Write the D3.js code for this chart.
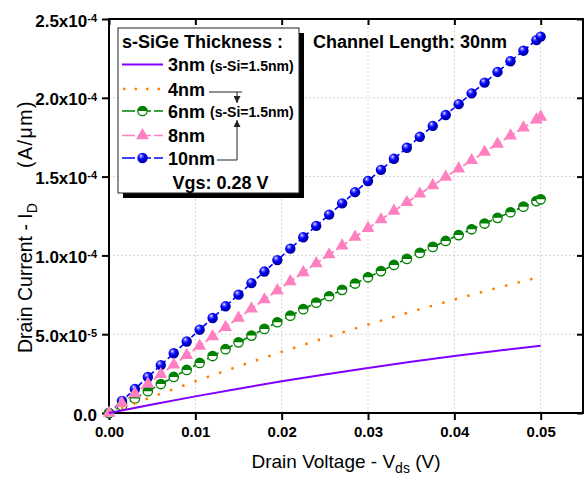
<!DOCTYPE html>
<html lang="en">
<head>
<meta charset="UTF-8">
<title>Drain Current vs Drain Voltage</title>
<script src="https://cdn.jsdelivr.net/npm/d3@7/dist/d3.min.js"></script>
<style>
    body { margin: 0; background: #fff; }
    svg { display: block; font-family: "Liberation Sans", Arial, sans-serif; }
    .grid line { stroke: #c8c8c8; stroke-width: 1; stroke-dasharray: 1.5, 2.5; }
    .axis path { display: none; }
    .axis line { stroke: #000; stroke-width: 2; }
    .axis text { font-size: 15px; font-weight: 700; fill: #000; }
    .leg { font-weight: 700; fill: #000; }
</style>
</head>
<body>
<svg width="584" height="480"></svg>
<script>
// V_ds (V) where the marker curves were sampled
var vdsPts = [0, 0.0015, 0.003, 0.0045, 0.006, 0.0075, 0.009, 0.0105, 0.012, 0.0135,
    0.015, 0.0165, 0.018, 0.0195, 0.021, 0.0225, 0.024, 0.0255, 0.027, 0.0285,
    0.03, 0.0315, 0.033, 0.0345, 0.036, 0.0375, 0.039, 0.0405, 0.042, 0.0435,
    0.045, 0.0465, 0.048, 0.0495, 0.05];
// I_D in units of 1e-5 A/um
var id10nm = [0, 0.764, 1.525, 2.283, 3.038, 3.791, 4.540, 5.286, 6.030, 6.770,
    7.508, 8.242, 8.974, 9.703, 10.428, 11.151, 11.871, 12.588, 13.302, 14.013,
    14.721, 15.427, 16.129, 16.828, 17.525, 18.218, 18.908, 19.596, 20.281, 20.962,
    21.641, 22.317, 22.990, 23.660, 23.883];
var id8nm = [0, 0.618, 1.233, 1.845, 2.453, 3.057, 3.659, 4.257, 4.851, 5.442,
    6.030, 6.614, 7.195, 7.773, 8.347, 8.918, 9.485, 10.050, 10.610, 11.167,
    11.721, 12.272, 12.819, 13.363, 13.903, 14.440, 14.973, 15.504, 16.030, 16.554,
    17.074, 17.590, 18.103, 18.613, 18.783];
var id6nm = [0, 0.464, 0.925, 1.382, 1.836, 2.286, 2.732, 3.175, 3.615, 4.050,
    4.483, 4.911, 5.337, 5.758, 6.176, 6.591, 7.002, 7.409, 7.813, 8.213,
    8.610, 9.003, 9.393, 9.779, 10.161, 10.540, 10.916, 11.288, 11.656, 12.021,
    12.382, 12.739, 13.093, 13.444, 13.560];
// line-only curves, every 5 mV
var vdsLine = [0, 0.005, 0.01, 0.015, 0.02, 0.025, 0.03, 0.035, 0.04, 0.045, 0.05];
var id4nm = [0, 1.023, 2.011, 2.964, 3.881, 4.764, 5.611, 6.424, 7.201, 7.943, 8.650];
var id3nm = [0, 0.540, 1.054, 1.544, 2.008, 2.448, 2.862, 3.252, 3.616, 3.956, 4.270];

var xTicks = [0, 0.01, 0.02, 0.03, 0.04, 0.05];
var xTickLabels = ["0.00", "0.01", "0.02", "0.03", "0.04", "0.05"];
var yTicks = [0, 5, 10, 15, 20, 25];
var yTickMant = ["0.0", "5.0x10", "1.0x10", "1.5x10", "2.0x10", "2.5x10"];
var yTickExp = ["", "-5", "-4", "-4", "-4", "-4"];
var legendNames = ["3nm", "4nm", "6nm", "8nm", "10nm"];

var svg = d3.select("svg");
var x = d3.scaleLinear().domain([0, 0.0549]).range([109, 583]);
var y = d3.scaleLinear().domain([0, 25]).range([413, 19]);

var defs = svg.append("defs");
var grad = defs.append("radialGradient").attr("id", "ball")
    .attr("cx", "0.4").attr("cy", "0.38").attr("r", "0.62")
    .attr("fx", "0.36").attr("fy", "0.3");
[["0", "#ffffff"], ["0.2", "#6868ff"], ["0.5", "#0000f8"], ["1", "#00009a"]].forEach(function (s) {
    grad.append("stop").attr("offset", s[0]).attr("stop-color", s[1]);
});
defs.append("marker").attr("id", "arr").attr("viewBox", "0 0 10 10")
    .attr("refX", 10).attr("refY", 5).attr("markerWidth", 7).attr("markerHeight", 7)
    .attr("markerUnits", "userSpaceOnUse").attr("orient", "auto")
    .append("path").attr("d", "M0,0L10,5L0,10Z").attr("fill", "#222");

// grid
var grid = svg.append("g").attr("class", "grid");
grid.selectAll(".gx").data(xTicks.slice(1)).enter().append("line")
    .attr("x1", x).attr("x2", x).attr("y1", y(25)).attr("y2", y(0));
grid.selectAll(".gy").data(yTicks.slice(1, -1)).enter().append("line")
    .attr("x1", x(0)).attr("x2", x.range()[1]).attr("y1", y).attr("y2", y);

// axes
var xAxis = svg.append("g").attr("class", "axis").attr("transform", "translate(0,413)")
    .call(d3.axisBottom(x).tickValues(xTicks).tickSize(7).tickPadding(6)
        .tickFormat(function (d, i) { return xTickLabels[i]; }));
xAxis.attr("font-size", null).attr("font-family", null);

svg.append("g").attr("class", "axis").attr("transform", "translate(0,19)")
    .call(d3.axisTop(x).tickValues(xTicks).tickSize(-6).tickFormat(""));
svg.append("g").attr("class", "axis").attr("transform", "translate(583,0)")
    .call(d3.axisRight(y).tickValues(yTicks).tickSize(-6).tickFormat(""));

var yAxis = svg.append("g").attr("class", "axis").attr("transform", "translate(109,0)")
    .call(d3.axisLeft(y).tickValues(yTicks).tickSize(7).tickPadding(5).tickFormat(""));
yAxis.attr("font-size", null).attr("font-family", null);
yAxis.selectAll(".tick text").each(function (d, i) {
    var t = d3.select(this).attr("dy", "0.42em").style("font-size", "17px");
    t.append("tspan").text(yTickMant[i]);
    if (yTickExp[i]) {
        t.append("tspan").attr("dy", "-0.45em").style("font-size", "11px").text(yTickExp[i]);
    }
});

// frame
svg.append("rect").attr("x", 109).attr("y", 19).attr("width", 474).attr("height", 394)
    .attr("fill", "none").attr("stroke", "#000").attr("stroke-width", 2);

// axis titles
var xt = svg.append("text").attr("x", 346).attr("y", 468).attr("text-anchor", "middle")
    .style("font-size", "19px");
xt.append("tspan").text("Drain Voltage - V");
xt.append("tspan").attr("dy", 5).style("font-size", "14px").text("ds");
xt.append("tspan").attr("dy", -5).text(" (V)");

var ytG = svg.append("g").attr("transform", "translate(32,0) rotate(-90)").style("font-size", "19.5px");
var yt = ytG.append("text").attr("x", -353);
yt.append("tspan").text("Drain Current - I");
yt.append("tspan").attr("dy", 5).style("font-size", "14px").text("D");
ytG.append("text").attr("x", -100).attr("text-anchor", "end").style("letter-spacing", "1.5px")
    .text("(A/\u03bcm)");

// curves
var line = d3.line().x(function (d) { return x(d[0]); }).y(function (d) { return y(d[1]); });

svg.append("path").datum(d3.zip(vdsPts, id10nm)).attr("d", line)
    .attr("fill", "none").attr("stroke", "#0000ff").attr("stroke-width", 1.6).attr("stroke-dasharray", "5,3");
svg.append("path").datum(d3.zip(vdsPts, id6nm)).attr("d", line)
    .attr("fill", "none").attr("stroke", "#008000").attr("stroke-width", 1.6).attr("stroke-dasharray", "5,3");
svg.append("path").datum(d3.zip(vdsPts, id8nm)).attr("d", line)
    .attr("fill", "none").attr("stroke", "#ff80c0").attr("stroke-width", 1.8).attr("stroke-dasharray", "5,3");

function ball(g) {
    g.append("circle").attr("r", 5.2).attr("fill", "url(#ball)");
}
function halfCircle(g) {
    g.append("circle").attr("r", 4.7).attr("fill", "#fff").attr("stroke", "#008000").attr("stroke-width", 1.3);
    g.append("path").attr("d", "M-4.7,0A4.7,4.7 0 0 1 4.7,0Z").attr("fill", "#008000");
}
function triangle(g) {
    g.append("path").attr("d", d3.symbol(d3.symbolTriangle, 72)()).attr("fill", "#ff80c0");
}

function markers(vals, draw) {
    svg.append("g").selectAll("g").data(d3.zip(vdsPts, vals)).enter().append("g")
        .attr("transform", function (d) { return "translate(" + x(d[0]) + "," + y(d[1]) + ")"; })
        .each(function () { draw(d3.select(this)); });
}
markers(id10nm, ball);
markers(id6nm, halfCircle);
markers(id8nm, triangle);

svg.append("path").datum(d3.zip(vdsLine, id4nm)).attr("d", line)
    .attr("fill", "none").attr("stroke", "#ff8000").attr("stroke-width", 2.5).attr("stroke-dasharray", "2.5,10.5");
svg.append("path").datum(d3.zip(vdsLine, id3nm)).attr("d", line)
    .attr("fill", "none").attr("stroke", "#8000ff").attr("stroke-width", 2);

// legend
var leg = svg.append("g");
leg.append("rect").attr("x", 123).attr("y", 33).attr("width", 181).attr("height", 165).attr("fill", "#000");
leg.append("rect").attr("x", 118).attr("y", 28).attr("width", 181).attr("height", 165)
    .attr("fill", "#fff").attr("stroke", "#222").attr("stroke-width", 1);
leg.append("text").attr("class", "leg").attr("x", 122).attr("y", 47.5).style("font-size", "18px")
    .text("s-SiGe Thickness :");

var rowY = [64.5, 89, 111, 135.5, 158];
// 3nm
leg.append("line").attr("x1", 122).attr("x2", 163).attr("y1", rowY[0]).attr("y2", rowY[0])
    .attr("stroke", "#8000ff").attr("stroke-width", 2);
// 4nm
leg.append("line").attr("x1", 123).attr("x2", 163).attr("y1", rowY[1]).attr("y2", rowY[1])
    .attr("stroke", "#ff8000").attr("stroke-width", 2.5).attr("stroke-dasharray", "2.5,9");
// 6nm, 8nm, 10nm: dashed line + marker
[["#008000", halfCircle], ["#ff80c0", triangle], ["#0000ff", ball]].forEach(function (m, k) {
    var yy = rowY[k + 2];
    leg.append("line").attr("x1", 122).attr("x2", 163).attr("y1", yy).attr("y2", yy)
        .attr("stroke", m[0]).attr("stroke-width", 1.6).attr("stroke-dasharray", "13,3");
    m[1](leg.append("g").attr("transform", "translate(142.5," + yy + ")"));
});
leg.selectAll(".name").data(legendNames).enter().append("text").attr("class", "leg")
    .attr("x", 168).attr("y", function (d, i) { return rowY[i] + 6.5; })
    .style("font-size", "18px").text(function (d) { return d; });
[0, 2].forEach(function (i) {
    leg.append("text").attr("class", "leg").attr("x", 210).attr("y", rowY[i] + 6)
        .style("font-size", "14px").text("(s-Si=1.5nm)");
});
leg.append("text").attr("class", "leg").attr("x", 172.5).attr("y", 188.5).style("font-size", "18px")
    .text("Vgs: 0.28 V");

// bracket arrows joining 4nm and 10nm
leg.append("path").attr("d", "M209,92H242M237,92V103").attr("fill", "none")
    .attr("stroke", "#222").attr("stroke-width", 1).attr("marker-end", "url(#arr)");
leg.append("path").attr("d", "M217,160H237V120").attr("fill", "none")
    .attr("stroke", "#222").attr("stroke-width", 1).attr("marker-end", "url(#arr)");

svg.append("text").attr("class", "leg").attr("x", 313).attr("y", 47.5).style("font-size", "18px")
    .text("Channel Length: 30nm");
</script>
</body>
</html>
